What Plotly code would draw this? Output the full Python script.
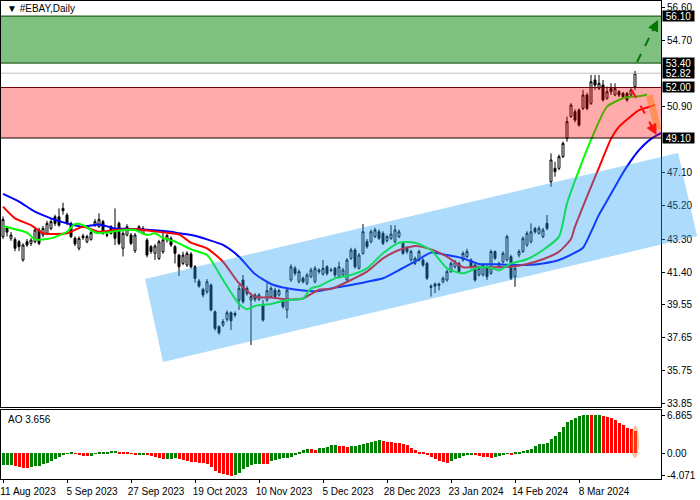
import plotly.graph_objects as go

# ---------------- data ----------------
TICK_POS = [0, 16, 32, 48, 64, 80, 96, 112, 128, 144]
TICK_LABELS = ["11 Aug 2023", "5 Sep 2023", "27 Sep 2023", "19 Oct 2023", "10 Nov 2023",
               "5 Dec 2023", "28 Dec 2023", "23 Jan 2024", "14 Feb 2024", "8 Mar 2024"]

OPEN = [43.44, 43.95, 43.34, 43.28, 43.15, 42.10, 43.15, 43.05, 43.15, 43.82,
        43.53, 43.63, 43.91, 44.58, 44.58, 45.06, 44.68, 44.20, 43.34, 42.77,
        43.48, 43.15, 43.28, 44.10, 44.01, 44.30, 43.55, 44.01, 43.82, 44.20,
        42.77, 43.53, 43.53, 42.63, 44.01, 43.63, 43.24, 42.86, 42.48, 42.19,
        42.57, 43.25, 43.34, 42.86, 42.38, 41.90, 41.81, 42.44, 41.71, 40.89,
        40.41, 40.28, 40.66, 39.13, 38.27, 38.37, 38.69, 39.07, 39.03, 39.80,
        40.95, 40.47, 39.80, 40.09, 39.84, 39.51, 39.80, 39.99, 40.37, 40.09,
        39.80, 39.23, 40.95, 41.62, 40.85, 41.05, 40.76, 41.14, 40.85, 41.52,
        41.29, 41.71, 41.50, 41.62, 41.14, 41.24, 40.95, 42.19, 42.67, 41.62,
        42.48, 43.15, 43.15, 43.44, 43.72, 43.63, 43.21, 43.34, 43.15, 43.44,
        43.05, 42.77, 42.10, 41.90, 42.10, 42.10, 41.90, 40.60, 40.72, 40.72,
        40.85, 40.95, 41.43, 41.71, 41.90, 42.10, 42.29, 42.10, 41.81, 41.24,
        41.24, 41.71, 41.33, 42.58, 41.71, 41.99, 42.10, 42.29, 41.14, 42.38,
        42.58, 42.96, 43.15, 43.91, 43.63, 43.44, 44.20, 46.59, 47.36, 47.36,
        48.03, 49.08, 50.33, 50.61, 50.71, 50.80, 51.57, 51.09, 52.43, 51.95,
        52.14, 51.38, 51.95, 51.57, 51.76, 51.66, 51.66, 51.57, 52.05]
HIGH = [44.60, 44.05, 43.70, 43.40, 43.25, 43.05, 43.30, 43.35, 43.95, 43.95,
        44.05, 44.35, 44.45, 44.70, 45.06, 45.39, 44.80, 44.30, 43.45, 43.45,
        43.60, 43.55, 43.80, 44.45, 44.78, 44.40, 43.65, 44.10, 45.06, 44.30,
        43.75, 44.15, 43.65, 43.65, 44.10, 44.05, 43.35, 42.95, 43.00, 43.25,
        43.75, 43.60, 43.45, 42.95, 42.45, 42.57, 42.60, 42.55, 41.80, 41.00,
        40.50, 41.00, 40.75, 39.20, 38.35, 38.70, 39.20, 39.15, 39.15, 40.66,
        41.24, 40.60, 40.15, 40.20, 40.20, 39.80, 40.76, 40.60, 40.50, 40.45,
        39.90, 40.50, 41.85, 41.75, 41.55, 41.15, 41.35, 41.65, 41.75, 41.62,
        42.10, 41.80, 41.65, 41.70, 42.00, 41.65, 42.20, 42.80, 42.80, 42.50,
        44.16, 43.30, 43.85, 43.95, 43.85, 43.75, 43.55, 44.10, 44.10, 43.85,
        43.15, 42.90, 42.70, 42.30, 42.70, 42.20, 42.00, 40.70, 40.80, 40.80,
        41.15, 41.55, 42.00, 42.10, 42.00, 42.60, 42.75, 42.20, 41.90, 41.75,
        41.90, 41.80, 42.70, 42.65, 42.00, 42.60, 43.55, 42.40, 41.75, 42.70,
        43.45, 43.75, 44.20, 44.00, 44.05, 43.95, 44.68, 48.22, 47.74, 48.15,
        48.90, 50.33, 51.10, 50.75, 50.80, 51.86, 51.70, 52.72, 52.72, 52.72,
        52.43, 52.05, 52.24, 52.24, 51.85, 51.75, 51.75, 51.95, 52.95]
LOW = [43.30, 43.45, 43.20, 42.60, 42.60, 42.00, 42.85, 42.90, 43.05, 42.95,
       43.40, 43.55, 43.80, 44.05, 44.00, 44.70, 44.10, 43.35, 42.90, 42.65,
       43.25, 43.05, 43.20, 44.00, 43.95, 43.55, 43.40, 43.55, 42.96, 42.95,
       42.30, 43.45, 42.95, 42.50, 43.70, 43.55, 42.25, 42.45, 42.10, 42.10,
       42.45, 43.10, 42.85, 41.90, 41.18, 41.80, 41.70, 41.60, 40.80, 40.50,
       39.95, 40.15, 39.15, 38.05, 37.80, 38.25, 38.55, 38.08, 38.80, 39.23,
       39.60, 40.05, 37.22, 39.70, 39.75, 38.56, 39.70, 39.90, 39.90, 40.00,
       39.30, 38.75, 40.85, 41.20, 40.75, 40.75, 40.65, 41.05, 40.75, 41.30,
       41.20, 41.20, 41.40, 41.10, 41.05, 41.15, 40.85, 42.10, 41.60, 41.55,
       42.40, 42.75, 43.05, 43.35, 43.25, 42.95, 43.10, 43.25, 43.05, 43.35,
       42.40, 42.45, 42.00, 41.80, 42.00, 41.70, 40.95, 40.00, 40.20, 40.35,
       40.75, 40.85, 41.35, 41.60, 41.35, 42.00, 42.20, 41.60, 40.85, 41.15,
       41.15, 40.95, 41.25, 42.10, 41.60, 41.90, 42.00, 40.95, 40.56, 42.25,
       42.50, 42.85, 43.05, 43.60, 43.55, 43.35, 43.80, 46.30, 46.88, 47.25,
       47.95, 48.89, 50.25, 50.00, 49.75, 50.70, 50.70, 51.00, 51.86, 51.85,
       51.20, 51.30, 51.57, 51.50, 51.45, 51.35, 51.18, 51.45, 51.86]
CLOSE = [44.43, 43.70, 43.53, 42.77, 42.86, 42.96, 42.96, 43.24, 43.82, 43.05,
         43.91, 44.20, 44.30, 44.20, 44.10, 44.93, 44.20, 43.44, 43.02, 43.34,
         43.38, 43.44, 43.67, 44.30, 44.43, 43.63, 43.50, 43.63, 43.34, 43.05,
         43.63, 44.01, 43.05, 43.53, 43.82, 43.91, 42.38, 42.58, 42.90, 43.15,
         43.25, 43.50, 42.96, 42.48, 41.71, 42.38, 42.48, 41.71, 41.04, 40.60,
         40.09, 40.85, 39.23, 38.17, 37.92, 38.56, 39.07, 38.61, 38.94, 40.47,
         39.70, 40.18, 40.00, 39.84, 40.09, 38.65, 40.34, 40.47, 39.99, 40.34,
         39.42, 40.37, 41.71, 41.33, 41.43, 40.85, 41.24, 41.52, 41.62, 41.43,
         41.62, 41.33, 41.52, 41.24, 41.71, 41.52, 42.10, 42.67, 41.71, 42.38,
         43.72, 42.86, 43.72, 43.82, 43.34, 43.05, 43.44, 43.59, 43.82, 43.72,
         42.48, 42.58, 42.58, 42.19, 42.58, 41.81, 41.05, 40.53, 40.60, 40.64,
         41.05, 41.43, 41.90, 42.00, 41.43, 42.48, 42.58, 41.71, 40.95, 41.62,
         41.81, 41.14, 42.58, 42.20, 41.90, 42.48, 43.44, 41.05, 41.62, 42.58,
         43.34, 43.63, 43.72, 43.72, 43.91, 43.82, 43.91, 47.84, 47.17, 48.03,
         48.79, 50.04, 50.99, 50.13, 49.84, 51.57, 50.80, 52.33, 52.14, 52.24,
         51.28, 51.76, 51.76, 51.95, 51.57, 51.47, 51.28, 51.86, 52.82]

# Alligator lines (jaw / teeth / lips), sampled at bar positions (shifted forward)
JAW_X = [0, 4, 8, 12, 16, 20, 24, 28, 32, 37, 42, 44, 48, 51, 55, 59, 63, 67, 71, 75,
         79, 83, 87, 91, 95, 99, 103, 107, 111, 115, 119, 123, 127, 131, 135, 139,
         143, 145, 147, 149, 151, 153, 155, 157, 159, 162, 166]
JAW_Y = [45.89, 45.45, 44.87, 44.49, 44.20, 44.01, 44.14, 43.91, 43.88, 43.82, 43.72,
         43.63, 43.49, 43.28, 42.96, 42.29, 41.29, 40.72, 40.47, 40.34, 40.32, 40.50,
         40.66, 40.85, 41.05, 41.52, 42.00, 42.52, 42.38, 42.19, 41.87, 41.85, 41.81,
         41.81, 41.90, 42.10, 42.52, 42.80, 43.70, 44.70, 45.50, 46.30, 47.10, 47.80,
         48.40, 49.05, 49.55]
TEETH_X = [0, 3, 7, 10, 12, 16, 20, 24, 28, 33, 37, 42, 44, 47, 51, 55, 59, 63, 67, 71,
           75, 79, 82, 87, 91, 95, 99, 103, 107, 111, 115, 119, 123, 127, 131, 135, 139,
           142, 143, 147, 149, 152, 154, 157, 159, 161, 163]
TEETH_Y = [45.16, 44.49, 44.10, 43.63, 43.59, 43.63, 44.01, 43.72, 43.82, 43.86, 43.76,
           43.63, 43.57, 43.09, 42.77, 42.00, 40.76, 39.99, 39.95, 39.84, 39.89, 40.39,
           40.43, 40.95, 41.43, 42.19, 42.67, 42.90, 42.71, 42.29, 41.68, 41.71, 41.68,
           41.71, 41.87, 42.14, 42.58, 43.30, 44.01, 46.30, 47.40, 49.05, 49.75, 50.35,
           50.70, 50.85, 51.00]
LIPS_X = [0, 3, 6, 8, 12, 16, 18, 20, 23, 26, 30, 33, 36, 38, 40, 43, 47, 51, 55, 59,
          61, 63, 67, 71, 75, 77, 79, 83, 87, 91, 95, 99, 103, 107, 111, 115, 119, 122,
          124, 127, 131, 135, 139, 141, 144, 147, 151, 155, 157, 159, 161]
LIPS_Y = [44.05, 43.86, 43.67, 43.28, 43.34, 43.72, 44.16, 44.10, 43.68, 43.67, 43.82,
          43.82, 43.53, 43.63, 43.35, 43.15, 42.71, 42.38, 40.95, 39.57, 39.27, 39.46,
          39.57, 39.80, 39.89, 40.47, 40.60, 41.04, 41.24, 41.62, 42.48, 43.09, 43.09,
          42.67, 41.62, 41.33, 41.68, 41.65, 41.50, 41.90, 42.14, 42.67, 43.44, 45.35,
          47.26, 48.99, 50.90, 51.38, 51.47, 51.50, 51.60]

# Awesome Oscillator values per bar
AO = [-2.10, -2.08, -2.06, -2.22, -2.40, -2.57, -2.63, -2.40, -2.28, -2.22,
      -1.92, -1.68, -1.44, -1.08, -0.72, -0.36, -0.12, 0.06, -0.10, -0.30,
      -0.48, -0.54, -0.48, -0.12, 0.12, 0.24, 0.30, 0.42, 0.48, 0.30,
      0.18, 0.12, -0.06, -0.26, -0.22, -0.18, -0.30, -0.42, -0.60, -0.90,
      -1.08, -1.02, -0.96, -0.90, -1.08, -1.20, -1.38, -1.50, -1.62, -1.68,
      -1.80, -1.98, -2.40, -3.11, -3.47, -3.71, -3.95, -4.071, -3.95, -3.47,
      -2.87, -2.40, -2.10, -1.92, -1.86, -1.92, -1.96, -1.38, -1.20, -1.08,
      -0.90, -0.78, -0.60, -0.24, 0.30, 0.60, 0.78, 0.72, 0.66, 0.90,
      0.96, 1.08, 1.50, 1.56, 1.38, 1.32, 1.20, 1.26, 1.38, 1.50,
      1.74, 1.92, 2.10, 2.28, 2.40, 2.28, 2.10, 1.98, 1.92, 1.80,
      1.68, 1.50, 1.02, 0.60, 0.30, 0.12, -0.18, -0.72, -1.08, -1.38,
      -1.62, -1.68, -1.38, -1.08, -0.78, -0.48, -0.36, -0.18, -0.30, -0.42,
      -0.60, -0.72, -0.90, -0.72, -0.48, -0.30, -0.12, -0.18, 0.06, 0.18,
      0.36, 0.60, 0.84, 1.32, 1.62, 1.74, 1.92, 2.57, 3.11, 3.90,
      4.75, 5.60, 6.05, 6.45, 6.75, 6.85, 6.86, 6.85, 6.86, 6.865,
      6.75, 6.50, 6.30, 6.02, 5.54, 5.12, 4.64, 4.34, 4.04]

PRICE_TICKS = [33.85, 35.75, 37.65, 39.55, 41.40, 43.30, 45.20, 47.10, 50.90, 54.70, 56.60]
AO_TICKS = [6.865, 0.0, -4.071]
AO_TICK_TEXT = ["6.865", "0.00", "-4.071"]
LEVEL_BOXES = [56.10, 53.40, 52.82, 52.00, 49.10]
GREEN_ZONE = (53.40, 56.10)
RED_ZONE = (49.10, 52.00)
CURRENT = 52.82
CHANNEL = [(35.5, 41.01), (168.75, 48.24), (173.5, 43.47), (40.0, 36.24)]

# ---------------- layout constants ----------------
X_RANGE = [-0.5, 164.5]
Y_RANGE = [33.658, 56.965]
AO_RANGE = [-4.63, 7.80]
MAIN_DOM = [0.1506, 1.0]
AO_DOM = [0.0, 0.1444]
FONT = "Liberation Sans"

BAR = list(range(len(CLOSE)))
ao_colors = ["rgb(0,128,0)"]
for k in range(1, len(AO)):
    ao_colors.append("rgb(0,128,0)" if AO[k] >= AO[k - 1] else "rgb(255,0,0)")


def px(i):
    return (i - X_RANGE[0]) / (X_RANGE[1] - X_RANGE[0])


def py(p):
    return MAIN_DOM[0] + (p - Y_RANGE[0]) / (Y_RANGE[1] - Y_RANGE[0]) * (MAIN_DOM[1] - MAIN_DOM[0])


fig = go.Figure()
fig.add_trace(go.Candlestick(
    x=BAR, open=OPEN, high=HIGH, low=LOW, close=CLOSE,
    increasing=dict(line=dict(color="black", width=1), fillcolor="white"),
    decreasing=dict(line=dict(color="black", width=1), fillcolor="black"),
    whiskerwidth=0, xaxis="x", yaxis="y", hoverinfo="skip", showlegend=False))
for xs, ys, col in [(JAW_X, JAW_Y, "rgb(0,0,255)"), (TEETH_X, TEETH_Y, "rgb(255,0,0)"),
                    (LIPS_X, LIPS_Y, "rgb(0,255,0)")]:
    fig.add_trace(go.Scatter(x=xs, y=ys, mode="lines", line=dict(color=col, width=2, shape="spline", smoothing=0.6),
                             xaxis="x", yaxis="y", hoverinfo="skip", showlegend=False))
fig.add_trace(go.Bar(x=BAR, y=AO, marker=dict(color=ao_colors, line=dict(width=0)), width=0.75,
                     xaxis="x2", yaxis="y2", hoverinfo="skip", showlegend=False))

shapes = []
shapes.append(dict(type="rect", xref="paper", yref="y", x0=0, x1=1, y0=GREEN_ZONE[0], y1=GREEN_ZONE[1],
                   fillcolor="rgba(0,128,0,0.5)", line=dict(width=0), layer="above"))
shapes.append(dict(type="rect", xref="paper", yref="y", x0=0, x1=1, y0=RED_ZONE[0], y1=RED_ZONE[1],
                   fillcolor="rgba(255,0,0,0.33)", line=dict(width=0), layer="above"))
for v, c in [(GREEN_ZONE[1], "rgb(0,70,0)"), (GREEN_ZONE[0], "rgb(0,70,0)"),
             (RED_ZONE[1], "rgb(110,0,0)"), (RED_ZONE[0], "rgb(20,0,0)"), (CURRENT, "rgb(192,192,192)")]:
    shapes.append(dict(type="line", xref="paper", yref="y", x0=0, x1=1, y0=v, y1=v,
                       line=dict(color=c, width=1), layer="above"))
path = "M " + " L ".join(f"{px(i):.4f},{py(p):.4f}" for i, p in CHANNEL) + " Z"
shapes.append(dict(type="path", xref="paper", yref="paper", path=path,
                   fillcolor="rgba(40,160,245,0.38)", line=dict(width=0), layer="above"))
# forecast arrows
GREEN_ARROW = [(158.5, 53.46), (163.75, 55.87)]
RED_ARROW = [(157.2, 51.86), (163.4, 49.27)]
shapes.append(dict(type="line", xref="x", yref="y", x0=GREEN_ARROW[0][0], y0=GREEN_ARROW[0][1],
                   x1=GREEN_ARROW[1][0], y1=GREEN_ARROW[1][1],
                   line=dict(color="rgb(0,120,0)", width=2, dash="dash"), layer="above"))
shapes.append(dict(type="line", xref="x", yref="y", x0=RED_ARROW[0][0], y0=RED_ARROW[0][1],
                   x1=RED_ARROW[1][0], y1=RED_ARROW[1][1],
                   line=dict(color="rgb(255,20,20)", width=2, dash="dash"), layer="above"))
shapes.append(dict(type="line", xref="x", yref="y", x0=161.6, y0=51.55, x1=163.7, y1=49.6,
                   line=dict(color="rgba(255,130,40,0.6)", width=7), layer="above"))
shapes.append(dict(type="circle", xref="x2", yref="y2", x0=157.0, x1=159.0, y0=-0.85, y1=4.95,
                   fillcolor="rgba(255,120,40,0.45)", line=dict(width=0), layer="above"))

annotations = []
for (a, b), col in [(GREEN_ARROW, "rgb(0,120,0)"), (RED_ARROW, "rgb(255,20,20)")]:
    tx = b[0] - (b[0] - a[0]) * 0.3
    ty = b[1] - (b[1] - a[1]) * 0.3
    annotations.append(dict(x=b[0], y=b[1], ax=tx, ay=ty, xref="x", yref="y", axref="x", ayref="y",
                            text="", showarrow=True, arrowhead=2, arrowsize=1.1, arrowwidth=2,
                            arrowcolor=col))
for v in LEVEL_BOXES:
    annotations.append(dict(x=1, y=v, xref="paper", yref="y", xanchor="left", yanchor="middle",
                            xshift=1, text="\u00a0" + f"{v:.2f}" + "\u00a0", showarrow=False,
                            bgcolor="black", borderpad=0, height=10, valign="middle",
                            font=dict(family=FONT, size=10, color="white")))
annotations.append(dict(x=0.006, y=0.999, xref="paper", yref="paper", xanchor="left", yanchor="top",
                        text="\u25bc #EBAY,Daily", showarrow=False,
                        font=dict(family=FONT, size=10, color="black")))
annotations.append(dict(x=0.008, y=AO_DOM[1] - 0.005, xref="paper", yref="paper", xanchor="left",
                        yanchor="top", text="AO 3.656", showarrow=False,
                        font=dict(family=FONT, size=10, color="black")))

axis_common = dict(showline=True, mirror=True, linecolor="black", linewidth=1,
                   showgrid=False, zeroline=False, tickcolor="black",
                   tickfont=dict(family=FONT, size=10, color="black"))

fig.update_layout(
    width=700, height=500,
    margin=dict(l=1, r=39, t=1, b=21),
    paper_bgcolor="white", plot_bgcolor="white",
    showlegend=False, bargap=0,
    xaxis=dict(domain=[0, 1], anchor="y", range=X_RANGE, showticklabels=False, ticks="",
               rangeslider=dict(visible=False), **axis_common),
    yaxis=dict(domain=MAIN_DOM, anchor="x", side="right", range=Y_RANGE,
               tickvals=PRICE_TICKS, ticktext=[f"{v:.2f}" for v in PRICE_TICKS],
               ticks="outside", ticklen=3, **axis_common),
    xaxis2=dict(domain=[0, 1], anchor="y2", matches="x", range=X_RANGE,
                tickvals=TICK_POS, ticktext=TICK_LABELS, ticks="outside", ticklen=3,
                ticklabelshift=25, **axis_common),
    yaxis2=dict(domain=AO_DOM, anchor="x2", side="right", range=AO_RANGE,
                tickvals=AO_TICKS, ticktext=AO_TICK_TEXT, ticks="outside", ticklen=3, **axis_common),
    shapes=shapes, annotations=annotations,
)

fig.write_html("out.html", config={"displayModeBar": False},
               post_script="document.body.style.margin='0px';document.body.style.overflow='hidden';")
